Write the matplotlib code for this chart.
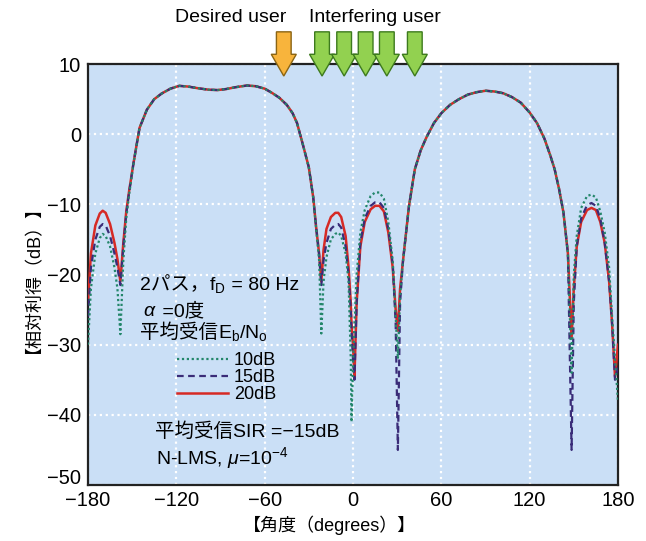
import matplotlib
matplotlib.use("Agg")
import matplotlib.pyplot as plt
from matplotlib.patches import FancyArrow
from matplotlib.transforms import ScaledTranslation

plt.rcParams['font.family'] = ['Liberation Sans', 'Noto Sans CJK JP']
plt.rcParams['mathtext.fontset'] = 'custom'
plt.rcParams['mathtext.rm'] = 'Liberation Sans'
plt.rcParams['mathtext.it'] = 'Liberation Sans:italic'

# 到来角 (deg)
angle = [-180, -178, -175, -172, -170, -168, -165, -162, -160, -158,
         -156, -154, -152, -149, -145, -140, -135, -130, -124, -118,
         -112, -105, -98, -92, -86, -80, -72, -66, -60, -55,
         -50, -45, -41, -38, -34, -30, -27, -25, -23, -21.5,
         -20, -18, -15, -12, -10, -8, -5, -3, -1.5, -1,
         0, 1, 2.5, 5, 8, 12, 15, 18, 21, 24,
         27, 29, 30.5, 32, 34, 38, 42, 46, 50, 55,
         60, 66, 72, 78, 84, 90, 96, 102, 108, 114,
         120, 125, 130, 134, 137, 140, 143, 146, 148.5, 150,
         152, 155, 159, 162, 165, 168, 171, 174, 176, 178,
         180]

# 相対利得 (dB), 平均受信Eb/No = 10dB
gain_10 = [-30, -22, -17, -14.8, -14.2, -14.5, -16.0, -19.0, -22.0, -28.5,
           -18.0, -12.0, -8.5, -4.1, 0.9, 3.5, 5.0, 5.8, 6.5, 6.9,
           6.8, 6.55, 6.35, 6.3, 6.45, 6.7, 6.95, 6.85, 6.5, 5.9,
           5.2, 4.2, 3.0, 1.6, -1.5, -4.7, -9.0, -13.5, -18.0, -28.4,
           -21.0, -17.5, -15.0, -14.2, -14.0, -14.5, -17.0, -21.0, -32.0, -41.0,
           -33.0, -27.0, -20.0, -14.0, -10.8, -8.8, -8.3, -8.3, -9.2, -12.5,
           -18.0, -26.0, -32.0, -23.0, -18.0, -10.3, -5.0, -2.3, -0.4, 1.6,
           3.0, 4.2, 5.0, 5.65, 6.0, 6.2, 6.1, 5.85, 5.3, 4.5,
           3.1, 1.6, -0.6, -3.0, -5.0, -7.8, -11.2, -17.0, -34.0, -20.0,
           -14.5, -10.5, -8.8, -8.6, -9.0, -11.0, -14.0, -19.0, -26.0, -32.0,
           -38.0]

# 平均受信Eb/No = 15dB
gain_15 = [-26, -19, -15, -13.2, -12.8, -13.0, -14.5, -17.0, -19.0, -21.5,
           -16.0, -11.3, -8.2, -4.0, 0.9, 3.5, 5.0, 5.8, 6.5, 6.9,
           6.8, 6.55, 6.35, 6.3, 6.45, 6.7, 6.95, 6.85, 6.5, 5.9,
           5.2, 4.2, 3.0, 1.6, -1.5, -4.7, -9.0, -13.3, -17.2, -21.5,
           -18.0, -15.5, -13.5, -12.9, -12.8, -13.3, -16.0, -20.0, -25.0, -28.0,
           -32.0, -35.0, -24.0, -15.5, -12.0, -10.2, -9.7, -9.7, -10.5, -13.5,
           -18.5, -27.0, -45.0, -24.0, -18.0, -10.3, -5.0, -2.3, -0.4, 1.6,
           3.0, 4.2, 5.0, 5.65, 6.0, 6.2, 6.1, 5.85, 5.3, 4.5,
           3.1, 1.6, -0.6, -3.0, -5.0, -7.8, -11.2, -17.0, -45.0, -24.0,
           -16.0, -12.0, -10.1, -9.8, -10.2, -12.0, -15.5, -21.0, -27.0, -35.0,
           -33.0]

# 平均受信Eb/No = 20dB
gain_20 = [-24, -17, -13, -11.3, -10.9, -11.2, -12.8, -15.5, -17.8, -21.0,
           -15.5, -11.0, -8.0, -4.0, 0.9, 3.5, 5.0, 5.8, 6.5, 6.9,
           6.8, 6.55, 6.35, 6.3, 6.45, 6.7, 6.95, 6.85, 6.5, 5.9,
           5.2, 4.2, 3.0, 1.6, -1.5, -4.7, -9.0, -13.3, -17.0, -21.0,
           -16.5, -13.5, -11.8, -11.2, -11.2, -11.8, -14.5, -19.0, -24.0, -27.0,
           -30.0, -34.6, -24.0, -16.0, -12.5, -10.7, -10.2, -10.2, -11.0, -14.0,
           -19.0, -25.0, -28.0, -22.0, -18.0, -10.3, -5.0, -2.3, -0.4, 1.6,
           3.0, 4.2, 5.0, 5.65, 6.0, 6.2, 6.1, 5.85, 5.3, 4.5,
           3.1, 1.6, -0.6, -3.0, -5.0, -7.8, -11.2, -17.0, -29.0, -22.0,
           -16.0, -12.5, -10.8, -10.5, -10.8, -12.5, -15.5, -21.0, -27.0, -34.6,
           -30.0]

desired_dir = [-47]
interf_dirs = [-21, -6, 8.6, 23, 42]

fig = plt.figure(figsize=(6.46, 5.41), dpi=100)
ax = fig.add_axes([0.1362, 0.1035, 0.8204, 0.778])
ax.set_facecolor('#cadff6')

ax.plot(angle, gain_20, color='#d62a25', lw=1.8, label='20dB', zorder=3)
ax.plot(angle, gain_15, color='#3a2c78', lw=1.6, ls=(0, (3, 2)), label='15dB', zorder=4)
ax.plot(angle, gain_10, color='#23866a', lw=1.6, ls=(0, (1, 1.2)), label='10dB', zorder=5)

ax.set_xlim(-180, 180)
ax.set_ylim(-50, 10)
ax.set_xticks([-180, -120, -60, 0, 60, 120, 180])
ax.set_yticks([10, 0, -10, -20, -30, -40, -50])
ax.grid(True, color='white', ls=':', lw=1.6)
ax.tick_params(length=0, labelsize=14.5)
ax.tick_params(axis='x', pad=4)
ax.tick_params(axis='y', pad=5)
for s in ax.spines.values():
    s.set_linewidth(1.6)
    s.set_color('#222222')

# -50 のラベルは -180 と重ならないよう少し上へ
fig.canvas.draw()
for t in ax.yaxis.get_major_ticks():
    if t.get_loc() == -50:
        lab = t.label1
        lab.set_transform(lab.get_transform()
                          + ScaledTranslation(0, 6 / 72, fig.dpi_scale_trans))

# 到来方向の矢印
def arrow(x, fc, ec):
    a = FancyArrow(x, 14.6, 0, -6.3, width=10, head_width=17, head_length=3.1,
                   length_includes_head=True, fc=fc, ec=ec, lw=1.0,
                   clip_on=False, zorder=10)
    ax.add_patch(a)

for d in desired_dir:
    arrow(d, '#f8b43c', '#8a6414')
for d in interf_dirs:
    arrow(d, '#92d150', '#3d7a1e')

fig.text(231 / 646, 1 - 18 / 541, 'Desired user', fontsize=14, ha='center', va='center')
fig.text(375 / 646, 1 - 18 / 541, 'Interfering user', fontsize=14, ha='center', va='center')

fs = 14
renderer = fig.canvas.get_renderer()


# 日本語と数式を同じベースラインで横に並べる
def chain(x, y, parts):
    off = 0.0
    for s in parts:
        tr = ax.transData + ScaledTranslation(off, 0, fig.dpi_scale_trans)
        t = ax.text(x, y, s, fontsize=fs, va='baseline', transform=tr)
        off += t.get_window_extent(renderer).width / fig.dpi


chain(-144.7, -22.2, ['2パス，', r'$\mathrm{f_D}$', ' = 80 Hz'])
chain(-142.6, -25.9, [r'$\alpha$', ' =0度'])
chain(-144.7, -29.05, ['平均受信', r'$\mathrm{E_b/N_o}$'])
ax.text(-134.5, -43.2, '平均受信SIR =−15dB', fontsize=fs, va='baseline')
ax.text(-133.8, -47.0, r'N-LMS, $\mu$=10$^{-4}$', fontsize=fs, va='baseline')

h, l = ax.get_legend_handles_labels()
ax.legend(h[::-1], l[::-1], loc='upper left', bbox_to_anchor=(0.168, 0.315),
          frameon=False, fontsize=13, handlelength=2.8, handletextpad=0.35,
          labelspacing=0.0, borderpad=0, borderaxespad=0)

fig.text(25 / 646, 1 - 270 / 541, '【相対利得（dB）】', rotation=90,
         fontsize=13, ha='center', va='center')
fig.text(330 / 646, 1 - 525 / 541, '【角度（degrees）】', fontsize=13,
         ha='center', va='center')

fig.savefig('out.png', dpi=100)
